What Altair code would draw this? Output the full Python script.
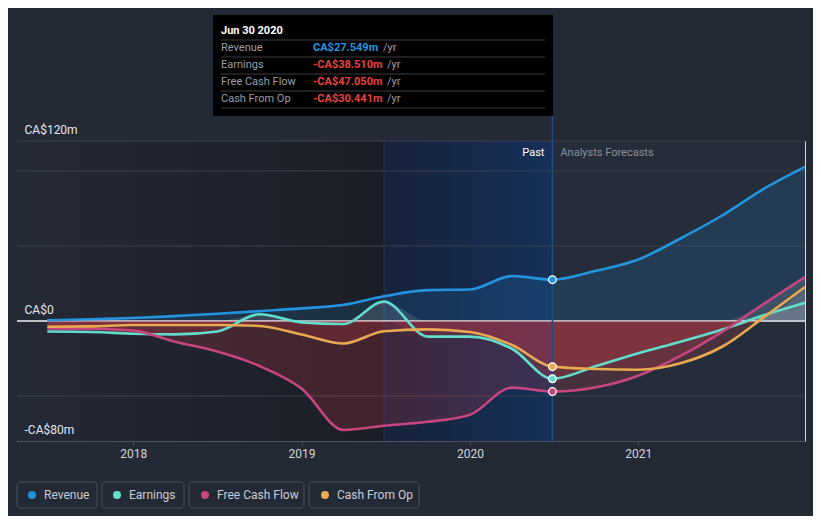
import altair as alt
import pandas as pd

# ---------------- data ----------------
series_names = ["Revenue", "Earnings", "Free Cash Flow", "Cash From Op"]
series_colors = ["#2394df", "#62ddcc", "#c8457f", "#e9a950"]

t_all = [2017.49, 2017.75, 2018.0, 2018.25, 2018.5, 2018.75, 2019.0, 2019.25,
         2019.49, 2019.75, 2020.0, 2020.25, 2020.49,
         2020.75, 2021.0, 2021.25, 2021.5, 2021.75, 2021.99]

revenue = [0.5, 1.2, 2.0, 3.3, 4.8, 6.6, 8.4, 10.8,
           16.5, 20.6, 21.0, 30.0, 27.549,
           33.5, 41.0, 55.0, 70.5, 88.4, 102.7]
earnings = [-7.0, -7.3, -8.5, -8.9, -7.0, 4.5, -0.9, -2.0,
            12.9, -10.4, -10.4, -18.5, -38.51,
            -30.0, -21.5, -13.8, -5.6, 4.0, 12.2]
free_cash_flow = [-4.9, -5.2, -6.4, -13.8, -20.4, -30.0, -45.0, -72.7,
                  -69.8, -67.2, -62.5, -44.4, -47.05,
                  -44.2, -36.5, -23.3, -7.1, 11.8, 29.3]
cash_from_op = [-3.8, -3.6, -2.7, -2.7, -2.7, -3.3, -9.0, -15.0,
                -6.8, -5.6, -7.3, -16.0, -30.441,
                -32.0, -32.5, -28.2, -17.0, 2.9, 22.7]

x_ticks = [2018, 2019, 2020, 2021]
y_label_values = [-80, 0, 120]
grid_values = [120, 100, 50, -50]
regions_start = [2017.31, 2019.49, 2020.49]
regions_end = [2019.49, 2020.49, 2021.99]
past_start = 2019.49
past_end = 2020.49

tip_title = "Jun 30 2020"
tip_labels = ["Revenue", "Earnings", "Free Cash Flow", "Cash From Op"]
tip_values = ["CA$27.549m", "-CA$38.510m", "-CA$47.050m", "-CA$30.441m"]
tip_colors = ["#2394df", "#e8403f", "#e8403f", "#e8403f"]

# ---------------- tables ----------------
rows = []
for name, vals in zip(series_names, [revenue, earnings, free_cash_flow, cash_from_op]):
    for t, v in zip(t_all, vals):
        rows.append({"t": t, "v": v, "series": name})
df = pd.DataFrame(rows)
df["neg"] = df["v"].clip(upper=0)
df["pos"] = df["v"].clip(lower=0)
df["zero"] = 0.0
rev_df = df[df.series == "Revenue"]
oth_df = df[df.series != "Revenue"]
pt_df = df[df.t == past_end]

reg_df = pd.DataFrame({"x1": regions_start, "x2": regions_end, "k": ["left", "past", "fc"]})
grid_df = pd.DataFrame({"g": grid_values})
one = pd.DataFrame({"a": [0]})

FONT = "Roboto"
XS = alt.Scale(domain=[2017.31, 2021.99], nice=False, zero=False)
YS = alt.Scale(domain=[-80, 120], nice=False, zero=False)
XA = alt.Axis(values=x_ticks, format="d", title=None, grid=False,
              domainColor="#4b5261", tickColor="#4b5261", tickSize=4,
              labelColor="#d3d6dc", labelFontSize=12, labelPadding=3,
              labelFont=FONT, zindex=1)
YA = alt.Axis(values=y_label_values, title=None, grid=False, domain=False,
              ticks=False, tickSize=0, labelAlign="left", labelBaseline="bottom",
              labelPadding=-7, labelOffset=-5, labelColor="#e6e8ec",
              labelFontSize=12, labelFont=FONT, zindex=1,
              labelExpr="datum.value == 120 ? 'CA$120m' : (datum.value == 0 ? 'CA$0' : '-CA$80m')")


def X(field):
    return alt.X(field, scale=XS, axis=XA)


def Y(field):
    return alt.Y(field, scale=YS, axis=YA)


layers = []

# background regions
grad_left = alt.LinearGradient(gradient="linear", x1=0, x2=1, y1=0, y2=0,
                               stops=[alt.GradientStop(offset=0, color="#242936"),
                                      alt.GradientStop(offset=1, color="#1b1e26")])
grad_past = alt.LinearGradient(gradient="linear", x1=0, x2=1, y1=0, y2=0,
                               stops=[alt.GradientStop(offset=0, color="#17223a"),
                                      alt.GradientStop(offset=1, color="#15305a")])
base_reg = alt.Chart(reg_df)
for key, fill in [("left", grad_left), ("past", grad_past), ("fc", "#252d3b")]:
    layers.append(base_reg.transform_filter(alt.datum.k == key).mark_rect(color=fill)
                  .encode(x=X("x1:Q"), x2="x2:Q", y=alt.value(0), y2=alt.value(300)))

# gridlines
layers.append(alt.Chart(grid_df).mark_rule(color="#3a404c", strokeWidth=1)
              .encode(y=Y("g:Q"), x=alt.value(0), x2=alt.value(788)))

# region edge line
layers.append(alt.Chart(one).mark_rule(color="#22355a", strokeWidth=1)
              .encode(x=alt.datum(past_start), y=alt.value(0), y2=alt.value(300)))

# zero line
layers.append(alt.Chart(one).mark_rule(color="#f2f2f2", strokeWidth=1.5)
              .encode(y=alt.datum(0), x=alt.value(0), x2=alt.value(788)))

# areas
layers.append(alt.Chart(rev_df).mark_area(color="#2394df", opacity=0.15, interpolate="monotone")
              .encode(x=X("t:Q"), y=Y("v:Q"), y2="zero:Q"))
for name in series_names[1:]:
    sub = oth_df[oth_df.series == name]
    layers.append(alt.Chart(sub).mark_area(color="#dc3c46", opacity=0.2, interpolate="monotone")
                  .encode(x=X("t:Q"), y=Y("neg:Q"), y2="zero:Q"))
    layers.append(alt.Chart(sub).mark_area(color="#e8eaee", opacity=0.13, interpolate="monotone")
                  .encode(x=X("t:Q"), y=Y("pos:Q"), y2="zero:Q"))

# past marker line
layers.append(alt.Chart(one).mark_rule(color="#1d4c82", strokeWidth=1.5)
              .encode(x=alt.datum(past_end), y=alt.value(-25), y2=alt.value(300)))

color_scale = alt.Scale(domain=series_names, range=series_colors)

# lines
layers.append(alt.Chart(df).mark_line(strokeWidth=2.6, interpolate="monotone")
              .encode(x=X("t:Q"), y=Y("v:Q"),
                      color=alt.Color("series:N", scale=color_scale, legend=None),
                      detail="series:N"))

# points at the cursor date
layers.append(alt.Chart(pt_df).mark_circle(size=60, opacity=1, stroke="#ffffff", strokeWidth=1.2)
              .encode(x=X("t:Q"), y=Y("v:Q"),
                      color=alt.Color("series:N", scale=color_scale, legend=None)))

# past / forecast labels
layers.append(alt.Chart(one).mark_text(text="Past", align="right", baseline="middle", dx=-8,
                                       color="#ffffff", fontSize=11, font=FONT)
              .encode(x=alt.datum(past_end), y=alt.value(12)))
layers.append(alt.Chart(one).mark_text(text="Analysts Forecasts", align="left", baseline="middle", dx=8,
                                       color="#8b909a", fontSize=11, font=FONT)
              .encode(x=alt.datum(past_end), y=alt.value(12)))

# tooltip box
layers.append(alt.Chart(one).mark_rect(color="#000000")
              .encode(x=alt.value(196), x2=alt.value(536), y=alt.value(-126), y2=alt.value(-25)))
layers.append(alt.Chart(one).mark_text(text=tip_title, align="left", baseline="middle",
                                       color="#ffffff", fontSize=11, fontWeight="bold", font=FONT)
              .encode(x=alt.value(204), y=alt.value(-110)))
yr_x = [366, 370, 370, 370]
for i in range(5):
    layers.append(alt.Chart(one).mark_rule(color="#3c3c3c", strokeWidth=1)
                  .encode(x=alt.value(204), x2=alt.value(528), y=alt.value(-101 + 17 * i)))
for i, (lab, val, col) in enumerate(zip(tip_labels, tip_values, tip_colors)):
    yy = -93 + 17 * i
    layers.append(alt.Chart(one).mark_text(text=lab, align="left", baseline="middle",
                                           color="#9a9ea6", fontSize=11, font=FONT)
                  .encode(x=alt.value(204), y=alt.value(yy)))
    layers.append(alt.Chart(one).mark_text(text=val, align="left", baseline="middle",
                                           color=col, fontSize=11, fontWeight="bold", font=FONT)
                  .encode(x=alt.value(296), y=alt.value(yy)))
    layers.append(alt.Chart(one).mark_text(text="/yr", align="left", baseline="middle",
                                           color="#9a9ea6", fontSize=11, font=FONT)
                  .encode(x=alt.value(yr_x[i]), y=alt.value(yy)))

# legend (boxes, dots, labels)
box_x1 = [0, 85, 172, 292]
box_x2 = [80, 167, 287, 402]
dot_x = [15, 100, 188, 308]
for name, col, a, b, dx in zip(series_names, series_colors, box_x1, box_x2, dot_x):
    layers.append(alt.Chart(one).mark_rect(fill=None, stroke="#4a505c", strokeWidth=1, cornerRadius=3)
                  .encode(x=alt.value(a), x2=alt.value(b), y=alt.value(341), y2=alt.value(367)))
    layers.append(alt.Chart(one).mark_circle(size=64, opacity=1, color=col)
                  .encode(x=alt.value(dx), y=alt.value(354)))
    layers.append(alt.Chart(one).mark_text(text=name, align="left", baseline="middle",
                                           color="#c8ccd4", fontSize=12, font=FONT)
                  .encode(x=alt.value(dx + 12), y=alt.value(354)))

chart = alt.layer(*layers).properties(
    width=788, height=300,
    autosize=alt.AutoSizeParams(type="none"),
    padding={"left": 9, "top": 133, "right": 8, "bottom": 75},
    background="#242936",
).configure_view(stroke=None).configure(font=FONT)

chart.save("out.html", embed_options={"renderer": "svg", "actions": False})
